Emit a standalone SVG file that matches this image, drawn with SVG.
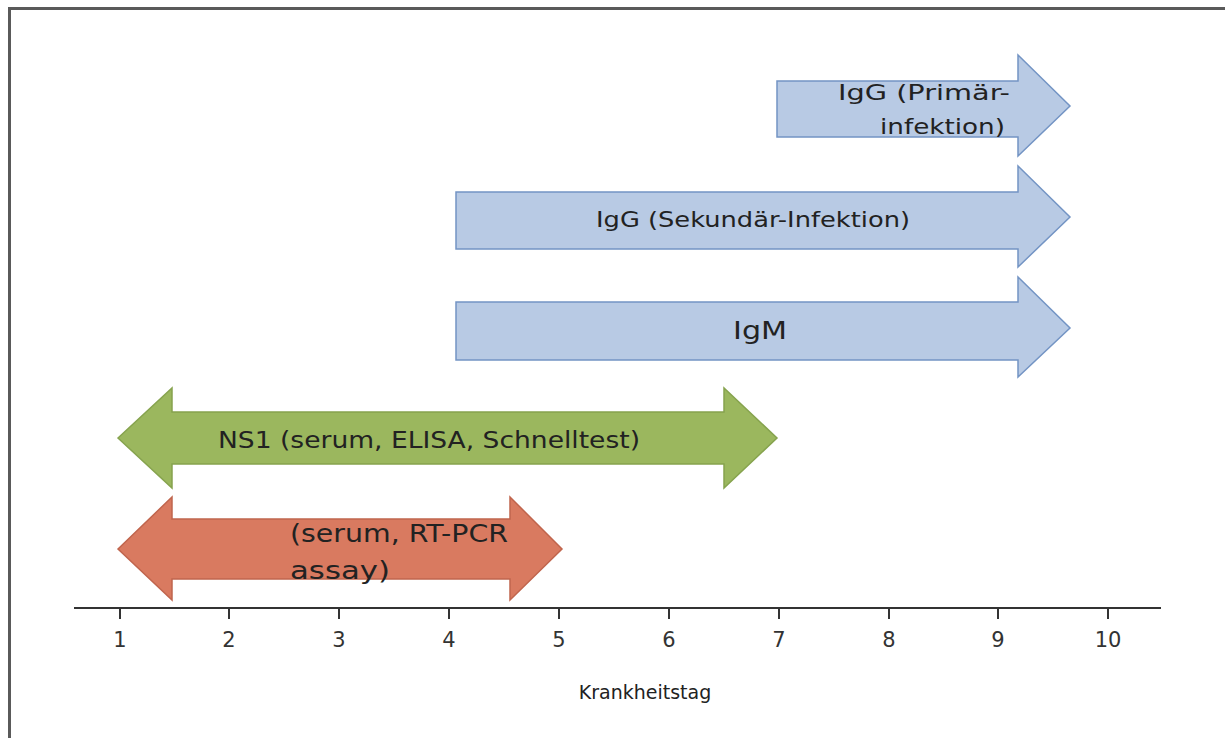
<svg xmlns="http://www.w3.org/2000/svg" width="1225" height="738" viewBox="0 0 1225 738">
<style>
.blue{fill:#b8cae4;stroke:#7394c4;stroke-width:1.5}
.green{fill:#9bb75e;stroke:#86a34e;stroke-width:1.5}
.red{fill:#d97a60;stroke:#c0654d;stroke-width:1.5}
.lbl{font-family:"DejaVu Sans",sans-serif;fill:#222}
.axis{stroke:#333;stroke-width:2;fill:none}
.num{font-family:"DejaVu Sans",sans-serif;font-size:21px;fill:#333;text-anchor:middle}
</style>
<rect x="0" y="0" width="1225" height="738" fill="#ffffff"/>
<path d="M9.5 738 V8.5 H1225" fill="none" stroke="#5a5a5a" stroke-width="3"/>

<g id="igg-primaer">
<path class="blue" d="M777 81 H1018 V55 L1070 106 L1018 156 V137 H777 Z"/>
<text class="lbl" font-size="22" x="838" y="100" textLength="172" lengthAdjust="spacingAndGlyphs">IgG (Primär-</text>
<text class="lbl" font-size="22" x="880" y="134" textLength="125" lengthAdjust="spacingAndGlyphs">infektion)</text>
</g>
<g id="igg-sekundaer">
<path class="blue" d="M456 192 H1018 V166 L1070 217 L1018 267 V249 H456 Z"/>
<text class="lbl" font-size="22" x="596" y="227" textLength="314" lengthAdjust="spacingAndGlyphs">IgG (Sekundär-Infektion)</text>
</g>
<g id="igm">
<path class="blue" d="M456 302 H1018 V277 L1070 328 L1018 377 V360 H456 Z"/>
<text class="lbl" font-size="25" x="733" y="339" textLength="54" lengthAdjust="spacingAndGlyphs">IgM</text>
</g>
<g id="ns1">
<path class="green" d="M118 438 L172 388 V412 H724 V388 L777 438 L724 488 V464 H172 V488 Z"/>
<text class="lbl" font-size="23" x="218" y="448" textLength="422" lengthAdjust="spacingAndGlyphs">NS1 (serum, ELISA, Schnelltest)</text>
</g>
<g id="rtpcr">
<path class="red" d="M118 549 L172 497 V519 H510 V497 L562 549 L510 600 V579 H172 V600 Z"/>
<text class="lbl" font-size="25" x="290" y="542" textLength="218" lengthAdjust="spacingAndGlyphs">(serum, RT-PCR</text>
<text class="lbl" font-size="25" x="290" y="579" textLength="100" lengthAdjust="spacingAndGlyphs">assay)</text>
</g>

<g id="axis">
<path class="axis" d="M74 608 H1161"/>
<path class="axis" d="M120 608 v11 M229 608 v11 M339 608 v11 M449 608 v11 M559 608 v11 M669 608 v11 M779 608 v11 M889 608 v11 M998 608 v11 M1108 608 v11"/>
<text class="num" x="120" y="647">1</text>
<text class="num" x="229" y="647">2</text>
<text class="num" x="339" y="647">3</text>
<text class="num" x="449" y="647">4</text>
<text class="num" x="559" y="647">5</text>
<text class="num" x="669" y="647">6</text>
<text class="num" x="779" y="647">7</text>
<text class="num" x="889" y="647">8</text>
<text class="num" x="998" y="647">9</text>
<text class="num" x="1108" y="647">10</text>
<text class="lbl" font-size="19" x="645" y="699" text-anchor="middle">Krankheitstag</text>
</g>
</svg>
